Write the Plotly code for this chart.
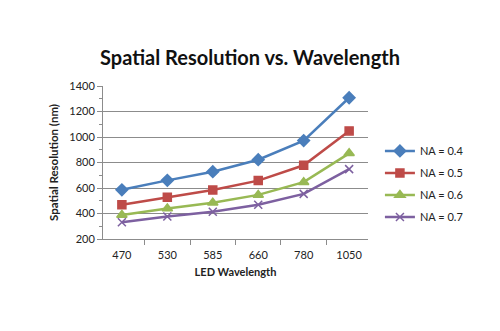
import plotly.graph_objects as go

wavelengths = ["470", "530", "585", "660", "780", "1050"]
na_04 = [586, 660, 728, 822, 972, 1308]
na_05 = [468, 528, 584, 658, 778, 1048]
na_06 = [388, 440, 484, 546, 646, 872]
na_07 = [332, 376, 414, 468, 554, 748]

series = [
    ("NA = 0.4", na_04, "#4A7EBB", "diamond", 9),
    ("NA = 0.5", na_05, "#BE4B48", "square", 8),
    ("NA = 0.6", na_06, "#98B954", "triangle-up", 9),
    ("NA = 0.7", na_07, "#7D60A0", "x-thin", 8),
]

fig = go.Figure()
for i, (name, vals, col, sym, sz) in enumerate(series):
    fig.add_trace(go.Scatter(
        x=wavelengths, y=vals, name=name, mode="lines+markers", legendgroup=f"g{i}",
        line=dict(color=col, width=2.5),
        marker=dict(symbol=sym, size=sz, color=col, line=dict(color=col, width=1.5)),
    ))

font = "Lato, 'Open Sans', sans-serif"
fig.update_layout(
    width=500, height=331,
    margin=dict(l=103, r=132, t=86, b=92),
    paper_bgcolor="white", plot_bgcolor="white",
    font=dict(family=font, size=11, color="#222"),
    title=dict(text="<b>Spatial Resolution vs. Wavelength</b>", x=0.5, xref="container",
               xanchor="center",
               y=0.825, yref="container", yanchor="middle",
               font=dict(size=20, color="#111", family=font)),
    showlegend=True,
    legend=dict(x=1.045, y=0.36, xanchor="left", yanchor="middle",
                font=dict(size=11, color="#222"), tracegroupgap=3, traceorder="grouped",
                itemwidth=30, bgcolor="rgba(0,0,0,0)"),
)
fig.update_xaxes(
    type="category", showgrid=False, showline=True, linecolor="#8c8c8c", linewidth=1,
    ticks="outside", tickson="boundaries", ticklen=5, tickcolor="#8c8c8c",
    ticklabelstandoff=6,
    title=dict(text="<b>LED Wavelength</b>", font=dict(size=11), standoff=8),
    tickfont=dict(size=11),
)
fig.update_yaxes(
    range=[200, 1400], dtick=200, showgrid=True, gridcolor="#8c8c8c", gridwidth=1,
    showline=True, linecolor="#8c8c8c", linewidth=1, zeroline=False,
    ticks="outside", ticklen=5, tickcolor="#8c8c8c",
    minor=dict(dtick=100, ticks="outside", ticklen=3, tickcolor="#8c8c8c", showgrid=False),
    title=dict(text="<b>Spatial Resolution (nm)</b>", font=dict(size=11.5), standoff=8),
    tickfont=dict(size=11),
)
fig.write_html("out.html")
